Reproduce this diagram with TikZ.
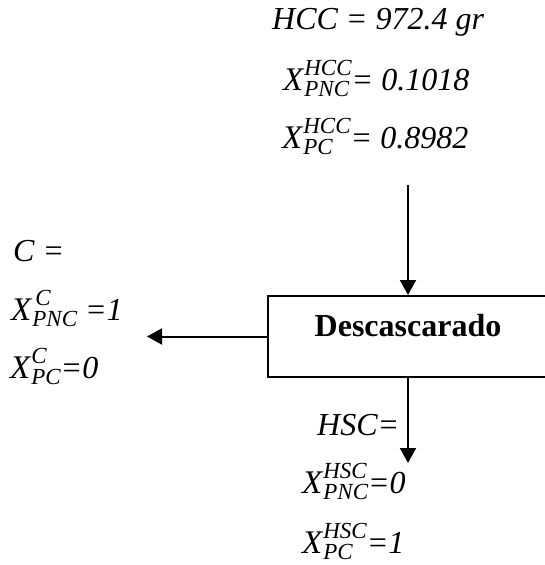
\documentclass[tikz,border=0pt]{standalone}
\usepackage{fontspec}
\setmainfont{Liberation Serif}
\usetikzlibrary{arrows.meta}
\usetikzlibrary{positioning}

% X with stacked super- and subscript
\newcommand{\xvar}[2]{{\fontsize{33}{36}\selectfont X}\hspace{1pt}{\fontsize{23}{25}\selectfont\ooalign{\raisebox{15pt}{#1}\cr\raisebox{-6pt}{#2}\cr}}}

\begin{document}
\begin{tikzpicture}[x=1pt, y=-1pt,
  lbl/.style={anchor=base west, inner sep=0pt, font=\fontsize{32}{36}\selectfont\itshape},
  procbox/.style={draw, line width=2pt, minimum width=280pt, minimum height=81pt,
    text height=12pt, text depth=12pt, font=\fontsize{32}{36}\selectfont\bfseries},
  flow/.style={line width=2pt, -{Triangle[length=15pt, width=16pt]}}]
  \useasboundingbox (0,0) rectangle (545,565);
  \clip (0,0) rectangle (545,565);
  % Process box
  \node[procbox] (desc) at (408,336.5) {Descascarado};
  % Feed HCC (top)
  \node[lbl] (hcc) at (272,29) {HCC = 972.4 gr};
  \node[lbl] (hccpnc) at (283,90) {\xvar{HCC}{PNC}= 0.1018};
  \node[lbl] (hccpc) at (282,148) {\xvar{HCC}{PC}= 0.8982};
  \coordinate (topin) at (408,185);
  \draw[flow] (topin) -- (desc.north);
  % Stream C (left)
  \node[lbl] (c) at (13,261) {C =};
  \node[lbl] (cpnc) at (11,320) {\xvar{\hspace{3pt}C}{PNC} =1};
  \node[lbl] (cpc) at (10,378) {\xvar{C}{PC}=0};
  \coordinate (leftout) at (147,336.5);
  \draw[flow] (desc.west) -- (leftout);
  % Stream HSC (bottom)
  \node[lbl] (hsc) at (317,435) {HSC=};
  \node[lbl] (hscpnc) at (302,493) {\xvar{HSC}{PNC}=0};
  \node[lbl] (hscpc) at (302,553) {\xvar{HSC}{PC}=1};
  \coordinate (botout) at (408,463);
  \draw[flow] (desc.south) -- (botout);
\end{tikzpicture}
\end{document}
